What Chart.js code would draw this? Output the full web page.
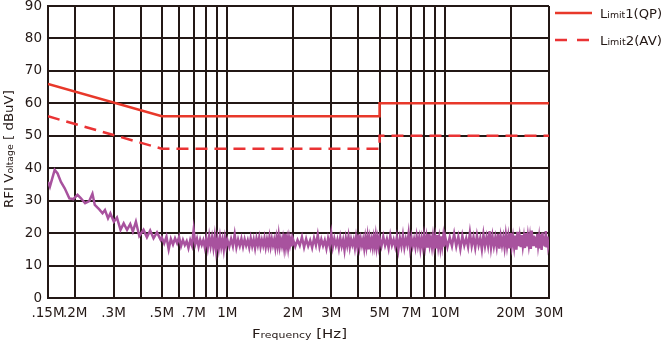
<!DOCTYPE html>
<html>
<head>
<meta charset="utf-8">
<script src="https://cdn.jsdelivr.net/npm/chart.js@4.4.1/dist/chart.umd.min.js"></script>
<style>
  html, body { margin: 0; padding: 0; background: #fff; }
  canvas { display: block; }
</style>
</head>
<body>
<canvas id="emiChart" width="665" height="341"></canvas>
<script>
// grid / tick layout of the frequency axis (MHz)
const gridFreqs = [0.15, 0.2, 0.3, 0.4, 0.5, 0.6, 0.7, 0.8, 0.9, 1, 2, 3, 4, 5, 6, 7, 8, 9, 10, 20, 30];
const tickFreqs = [0.15, 0.2, 0.3, 0.5, 0.7, 1, 2, 3, 5, 7, 10, 20, 30];
const tickLabels = ['.15M', '.2M', '.3M', '.5M', '.7M', '1M', '2M', '3M', '5M', '7M', '10M', '20M', '30M'];

// limit lines
const limitFreqs = [0.15, 0.5, 5, 5, 30];
const limitQP = [66, 56, 56, 60, 60];
const limitAV = [56, 46, 46, 50, 50];

// measured trace, low band (read point by point)
const traceLowFreqs = [0.150, 0.153, 0.161, 0.166, 0.172, 0.179, 0.188, 0.196, 0.205, 0.212, 0.222, 0.232, 0.240, 0.246, 0.258, 0.267, 0.274,
  0.283, 0.290, 0.301, 0.311, 0.323, 0.334, 0.346, 0.358, 0.368, 0.380, 0.394, 0.412, 0.427, 0.442, 0.458, 0.475, 0.494];
const traceLowLevels = [35.8, 34.3, 39.5, 38.4, 35.8, 33.8, 30.7, 30.5, 31.8, 30.8, 29.2, 29.9, 32.1, 28.7, 27.3, 26.1, 27.1,
  24.6, 26.1, 23.5, 24.8, 21.0, 23.0, 21.0, 22.8, 20.5, 23.5, 19.1, 21.0, 18.7, 20.8, 18.4, 20.2, 17.9];

// receiver scan segments above 0.5 MHz: start (MHz), step (MHz), levels (dBuV)
const scanStarts = [0.5, 1, 2, 5, 10];
const scanSteps = [0.0125, 0.02, 0.05, 0.1, 0.25];
const scanLevelsA = [18.6, 16.8, 18.9, 15.0, 18.2, 16.5, 18.4, 16.9, 18.8, 16.0, 17.9, 16.3, 17.5, 15.4, 17.8, 16.2, 21.0, 16.6, 18.3, 15.8,
  18.0, 16.4, 17.8, 15.6, 18.4, 15.5, 19.0, 16.0, 18.6, 15.5, 19.0, 14.8, 18.2, 15.3, 18.7, 15.8, 18.0, 15.0, 18.4, 16.0];
const scanLevelsB = [17.9, 15.8, 18.2, 16.0, 19.6, 15.6, 18.0, 16.1, 18.3, 15.8, 18.1, 16.2, 17.8, 15.6, 18.4, 16.0, 18.0, 15.4, 18.3, 16.3,
  18.6, 15.8, 17.9, 16.2, 18.4, 15.7, 18.0, 16.0, 18.7, 15.9, 18.2, 16.3, 17.9, 15.5, 18.5, 16.1, 19.3, 15.9, 18.0, 16.2,
  18.3, 15.7, 19.8, 16.0, 18.1, 15.5, 18.4, 16.4, 18.0, 15.9];
const scanLevelsC = [18.2, 15.9, 17.9, 16.2, 18.8, 15.6, 18.2, 16.0, 17.8, 15.5, 18.5, 16.3, 19.5, 15.8, 18.1, 16.1, 17.8, 15.3, 18.3, 16.0,
  19.8, 15.8, 18.3, 16.2, 18.0, 15.4, 18.6, 16.0, 17.9, 14.8, 18.4, 16.2, 19.0, 15.7, 18.1, 16.4, 17.9, 15.5, 18.6, 16.0,
  19.6, 15.9, 18.2, 16.3, 18.0, 15.4, 18.5, 15.9, 18.8, 15.0, 18.3, 16.1, 18.0, 15.8, 18.5, 16.2, 19.0, 15.8, 18.2, 16.0];
const scanLevelsD = [18.5, 16.0, 18.9, 16.2, 18.2, 15.4, 19.2, 16.3, 18.0, 15.8, 18.7, 14.9, 18.4, 16.0, 19.3, 15.6, 18.2, 16.4, 19.9, 15.5,
  18.6, 16.1, 18.1, 15.7, 19.0, 16.2, 18.5, 15.2, 18.3, 15.9, 19.1, 16.0, 18.7, 15.5, 19.7, 16.3, 18.2, 15.8, 18.9, 16.1,
  18.6, 15.3, 19.4, 16.0, 18.4, 15.7, 19.0, 16.2, 18.8, 15.8];
const scanLevelsE = [19.0, 15.7, 18.7, 16.0, 19.8, 15.9, 18.9, 15.1, 19.2, 16.2, 18.4, 15.7, 20.2, 16.0, 18.8, 15.5, 19.3, 16.3, 18.5, 15.0,
  19.5, 16.0, 18.8, 16.1, 20.6, 15.6, 19.1, 16.0, 18.6, 15.8, 19.8, 15.2, 19.0, 16.3, 18.7, 15.6, 19.4, 16.0, 18.9, 15.3,
  20.0, 16.2, 18.8, 15.8, 19.2, 14.9, 20.4, 16.0, 18.8, 15.7, 19.4, 16.1, 18.6, 15.4, 20.0, 15.9, 19.0, 16.3, 18.7, 15.1,
  20.8, 16.0, 19.2, 16.0, 18.9, 15.5, 19.8, 16.4, 18.6, 15.3, 19.6, 14.8, 20.2, 16.1, 19.0, 15.8, 20.6, 15.6, 18.9, 16.0, 17.4];
const scanLevels = [scanLevelsA, scanLevelsB, scanLevelsC, scanLevelsD, scanLevelsE];

const INK = '#231815';
const FONT = '"DejaVu Sans", sans-serif';

function pts(xs, ys) { return xs.map((x, i) => ({ x: x, y: ys[i] })); }

// assemble the trace: low band points, then each scan segment on its frequency grid
const tracePoints = pts(traceLowFreqs, traceLowLevels);
scanLevels.forEach((levels, s) => {
  levels.forEach((lv, i) => tracePoints.push({ x: scanStarts[s] + i * scanSteps[s], y: lv }));
});

// text with mixed glyph sizes (the reference uses small letters inside words)
function drawParts(ctx, parts, x, y, width) {
  let w = 0;
  parts.forEach(([t, s]) => { ctx.font = s + 'px ' + FONT; w += ctx.measureText(t).width; });
  ctx.save();
  ctx.translate(x, y);
  ctx.scale(width / w, 1);
  ctx.textBaseline = 'alphabetic';
  ctx.textAlign = 'left';
  ctx.fillStyle = INK;
  let cx = 0;
  parts.forEach(([t, s]) => { ctx.font = s + 'px ' + FONT; ctx.fillText(t, cx, 0); cx += ctx.measureText(t).width; });
  ctx.restore();
}

const decorPlugin = {
  id: 'decor',
  afterDraw(chart) {
    const ctx = chart.ctx;
    // axis titles
    ctx.save();
    ctx.translate(13, 208);
    ctx.rotate(-Math.PI / 2);
    drawParts(ctx, [['RFI V', 13], ['oltage', 9], [' [ dBuV]', 13]], 0, 0, 118);
    ctx.restore();
    drawParts(ctx, [['F', 13], ['requency', 9.5], [' [Hz]', 13]], 252, 338, 95);
    // legend
    ctx.save();
    ctx.lineWidth = 2.5;
    ctx.strokeStyle = '#e8382a';
    ctx.beginPath(); ctx.moveTo(555, 13); ctx.lineTo(592, 13); ctx.stroke();
    ctx.strokeStyle = '#ea3334';
    ctx.setLineDash([12, 10]);
    ctx.beginPath(); ctx.moveTo(555, 40); ctx.lineTo(592, 40); ctx.stroke();
    ctx.restore();
    drawParts(ctx, [['L', 12], ['imit', 8.5], ['1(QP)', 12]], 600, 18, 62);
    drawParts(ctx, [['L', 12], ['imit', 8.5], ['2(AV)', 12]], 600, 45, 62);
  }
};

new Chart(document.getElementById('emiChart'), {
  type: 'line',
  data: {
    datasets: [
      { label: 'Measured', data: tracePoints, borderColor: '#a8529e', borderWidth: 2.5, pointRadius: 0, tension: 0 },
      { label: 'Limit1(QP)', data: pts(limitFreqs, limitQP), borderColor: '#e8382a', borderWidth: 2.5, pointRadius: 0, tension: 0 },
      { label: 'Limit2(AV)', data: pts(limitFreqs, limitAV), borderColor: '#ea3334', borderWidth: 2.5, borderDash: [12, 7], pointRadius: 0, tension: 0 }
    ]
  },
  options: {
    responsive: false,
    animation: false,
    layout: { padding: { left: 0, top: 6, right: 116, bottom: 0 } },
    plugins: { legend: { display: false }, tooltip: { enabled: false } },
    scales: {
      x: {
        type: 'logarithmic', min: 0.15, max: 30,
        afterBuildTicks: s => { s.ticks = gridFreqs.map(v => ({ value: v })); },
        afterFit: s => { s.height = 43; s.paddingLeft = 0; s.paddingRight = 0; },
        ticks: {
          autoSkip: false, maxRotation: 0, minRotation: 0, padding: 7, color: INK,
          font: { family: FONT, size: 13.5 },
          callback: v => { const i = tickFreqs.findIndex(f => Math.abs(f - v) < 1e-9); return i >= 0 ? tickLabels[i] : ''; }
        },
        grid: { color: INK, lineWidth: 2, drawTicks: false },
        border: { color: INK, width: 2 }
      },
      y: {
        min: 0, max: 90,
        afterFit: s => { s.width = 48; s.paddingTop = 0; s.paddingBottom = 0; },
        ticks: { stepSize: 10, padding: 6, color: INK, font: { family: FONT, size: 13.5 } },
        grid: { color: INK, lineWidth: 2, drawTicks: false },
        border: { color: INK, width: 2 }
      }
    }
  },
  plugins: [decorPlugin]
});
</script>
</body>
</html>
